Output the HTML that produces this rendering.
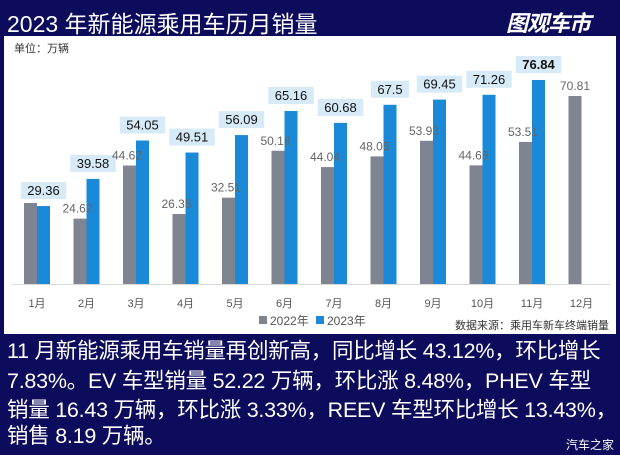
<!DOCTYPE html>
<html><head><meta charset="utf-8"><style>
body{margin:0;width:620px;height:455px;background:#0c0b5c;overflow:hidden;position:relative;font-family:"Liberation Sans","Noto Sans CJK SC",sans-serif}
.t{position:absolute;color:#fff;white-space:nowrap}
.ln{position:absolute;left:7px;color:#fff;font-size:21.5px;white-space:nowrap;letter-spacing:-0.25px;line-height:29px}
</style></head><body>
<div class="t" style="left:7px;top:5px;font-size:23px;">2023 年新能源乘用车历月销量</div>
<div class="t" style="left:506px;top:6px;font-size:22px;font-weight:bold;font-style:italic;letter-spacing:-1px;">图观车市</div>
<div style="position:absolute;left:4px;top:36px;width:612px;height:298px;background:#fff"></div>
<svg style="position:absolute;left:0;top:0" width="620" height="455" font-family="Liberation Sans, Noto Sans CJK SC, sans-serif">
<text x="14" y="52" font-size="11" fill="#333">单位：万辆</text>
<line x1="12" y1="284.5" x2="610" y2="284.5" stroke="#d9d9d9"/>
<g id="bars"></g>
<g font-size="11" fill="#555" text-anchor="middle" id="months"></g>
<rect x="259" y="316" width="8" height="8" fill="#7f8491"/>
<text x="270" y="325" font-size="12" fill="#555">2022年</text>
<rect x="316" y="316" width="8" height="8" fill="#1a8ad8"/>
<text x="327" y="325" font-size="12" fill="#555">2023年</text>
<text x="609" y="329" font-size="11" fill="#333" text-anchor="end">数据来源：乘用车新车终端销量</text>
</svg>
<div class="ln" style="top:337px">11 月新能源乘用车销量再创新高，同比增长 43.12%，环比增长</div>
<div class="ln" style="top:367px">7.83%。EV 车型销量 52.22 万辆，环比涨 8.48%，PHEV 车型</div>
<div class="ln" style="top:396px">销量 16.43 万辆，环比涨 3.33%，REEV 车型环比增长 13.43%，</div>
<div class="ln" style="top:422px">销售 8.19 万辆。</div>
<div class="t" style="right:6px;top:436px;font-size:12px;">汽车之家</div>
<script>
var g22=[30.5,24.62,44.62,26.35,32.51,50.18,44.04,48.05,53.93,44.68,53.51,70.81];
var g23=[29.36,39.58,54.05,49.51,56.09,65.16,60.68,67.5,69.45,71.26,76.84,null];
var s=2.655,B=284,h='',m='';
for(var i=0;i<12;i++){
 var bx=37+49.5*i, gx=bx-13;
 var gt=B-g22[i]*s;
 h+='<rect x="'+gx+'" y="'+gt+'" width="13" height="'+(B-gt)+'" fill="#7f8491"/>';
 if(g23[i]!=null){
  var bt=B-g23[i]*s;
  h+='<rect x="'+bx+'" y="'+bt+'" width="13" height="'+(B-bt)+'" fill="#1a8ad8"/>';
  var lab=String(g23[i]);
  var w=lab.length*7.5+8;
  h+='<rect x="'+(bx+6.5-w/2)+'" y="'+(bt-24)+'" width="'+w+'" height="17" fill="#d7eaf8"/>';
  h+='<text x="'+(bx+6.5)+'" y="'+(bt-11)+'" font-size="13" text-anchor="middle" fill="#111" font-weight="'+(i==10?'bold':'normal')+'">'+lab+'</text>';
 }
 var gl=i==0?'':g22[i].toFixed(2).replace(/0$/,'');
 h+='<text x="'+(i==11?gx+6.5:gx+4)+'" y="'+(gt-6)+'" font-size="12" text-anchor="middle" fill="#666">'+gl+'</text>';
 m+='<text x="'+bx+'" y="307">'+(i+1)+'月</text>';
}
document.getElementById('bars').innerHTML=h;
document.getElementById('months').innerHTML=m;
</script>
</body></html>
